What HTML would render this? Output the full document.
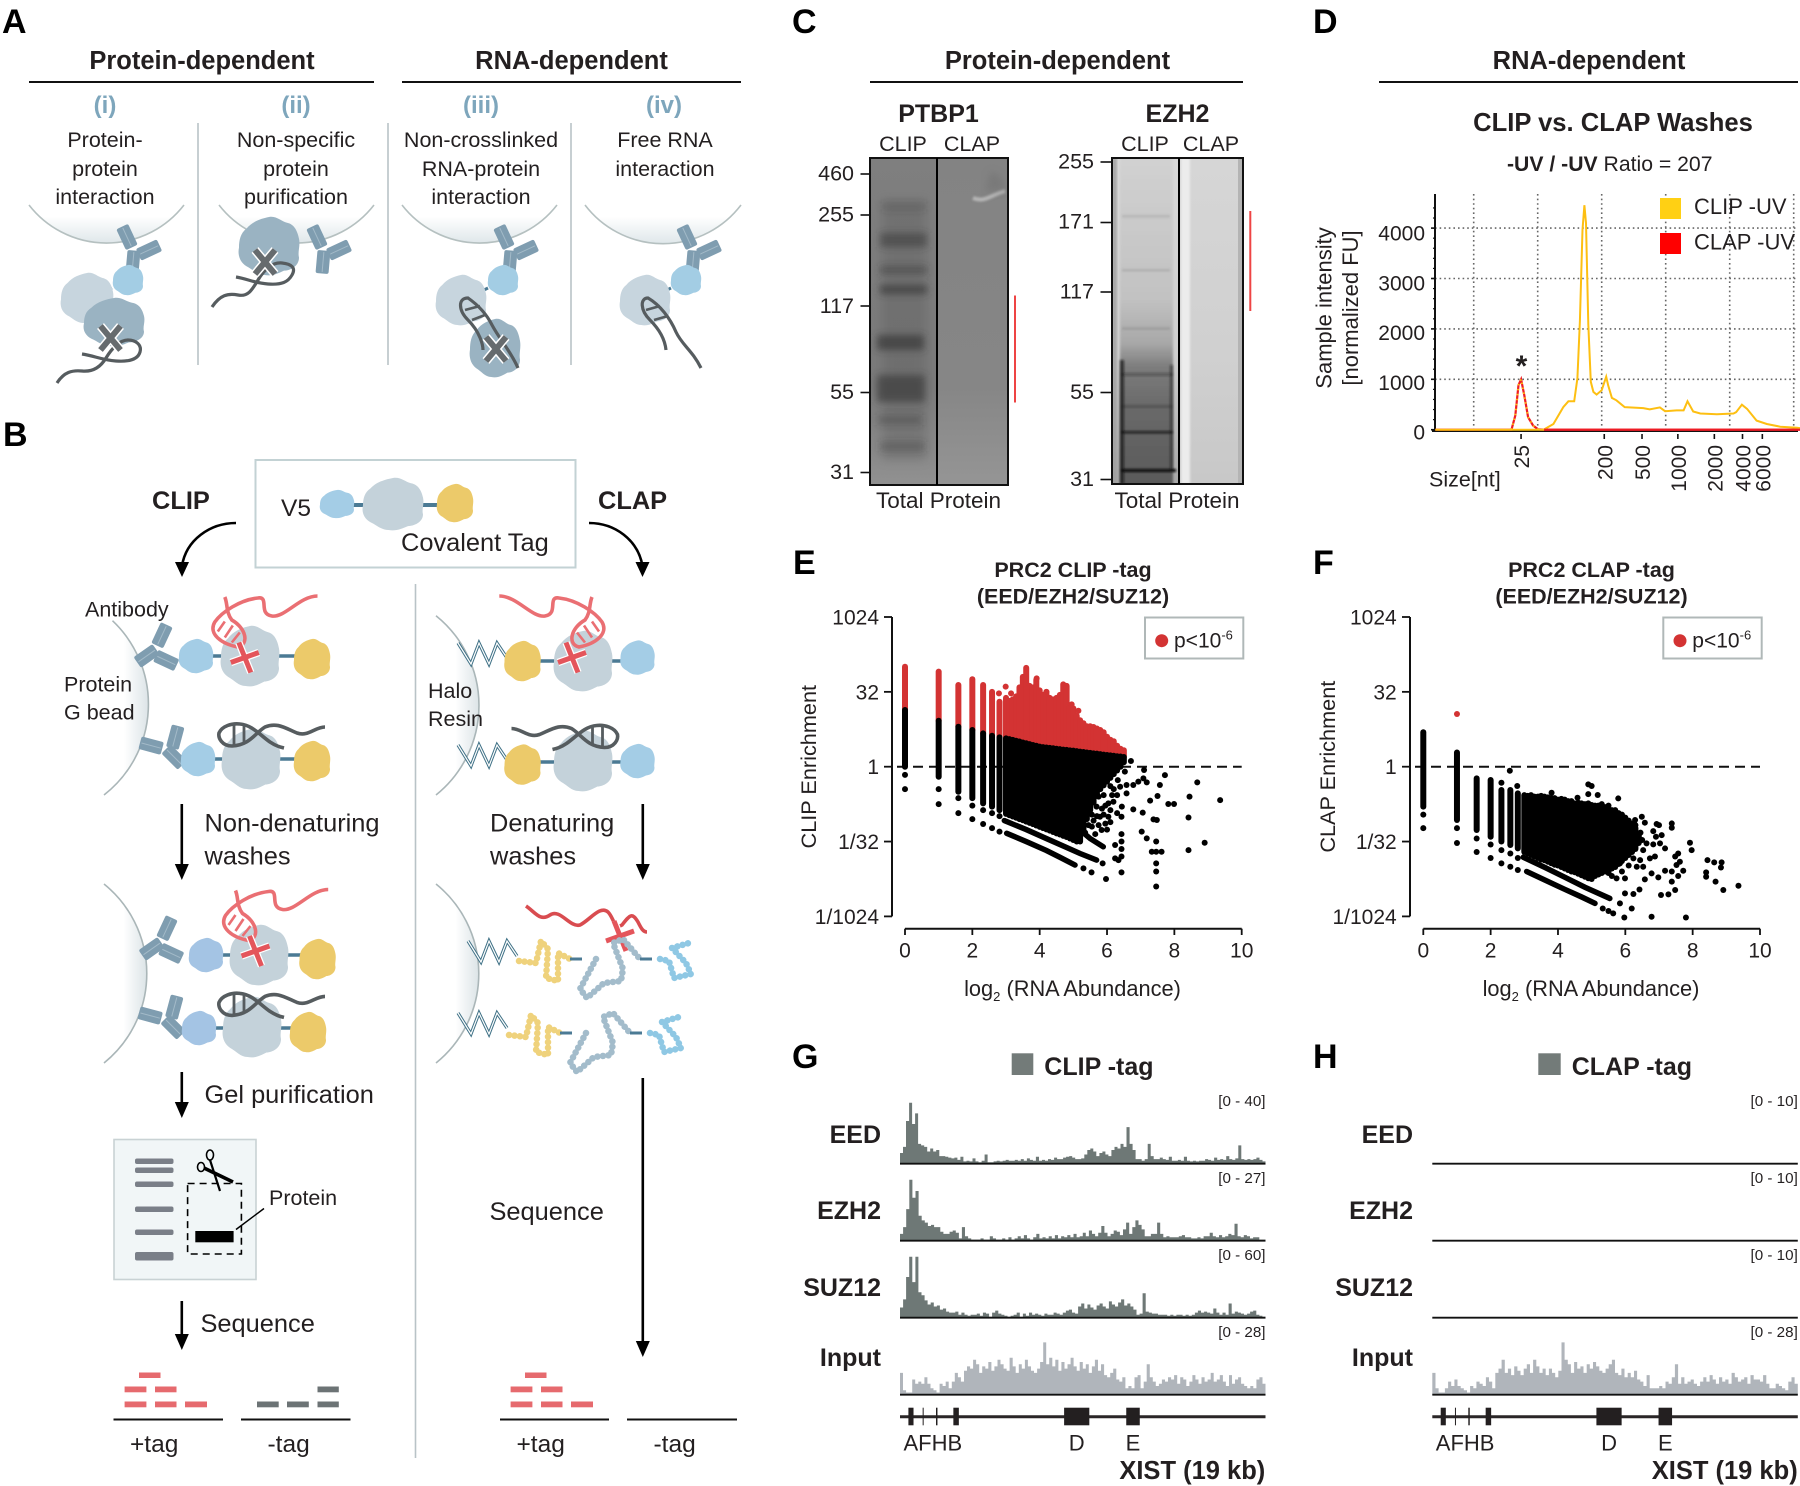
<!DOCTYPE html>
<html lang="en">
<head>
<meta charset="utf-8">
<title>CLIP vs CLAP figure</title>
<style>
html,body{margin:0;padding:0;background:#fff;}
svg{display:block;font-family:"Liberation Sans",sans-serif;fill:#231f20;}
.l{font-size:34px;font-weight:700;fill:#000;}
.h{font-size:25.5px;font-weight:700;text-anchor:middle;}
.r{font-size:24px;font-weight:700;fill:#7ea6bc;text-anchor:middle;}
.t{font-size:21.5px;}
.c{text-anchor:middle;}
.e{text-anchor:end;}
.m{font-size:25.4px;}
.b{font-weight:700;}
.rule{stroke:#111;stroke-width:2;}
.div{stroke:#b9c3c7;stroke-width:1.6;}
.arrow{stroke:#000;stroke-width:2.6;fill:none;}
.head{fill:#000;}
.chain{fill:none;stroke-linecap:round;stroke-linejoin:round;stroke-width:6.5;stroke-dasharray:.1 5.4;}
</style>
</head>
<body>
<svg id="figure" xmlns="http://www.w3.org/2000/svg" width="1800" height="1486" viewBox="0 0 1800 1486">
<defs>
<path id="blob" d="M0 -1 C.25 -1.05 .4 -.85 .6 -.8 C.85 -.75 .95 -.5 1 -.25 C1.05 0 .95 .2 1 .4 C1 .7 .7 .85 .5 .85 C.3 .95 .1 1.05 -.15 1 C-.4 1 -.55 .8 -.75 .7 C-.98 .55 -1.05 .3 -1 .05 C-1 -.2 -.95 -.45 -.75 -.6 C-.55 -.85 -.25 -.95 0 -1Z"/>
<g id="abarm">
<rect x="-6.5" y="-11.5" width="13" height="23" rx="2" fill="#7f9db0"/>
<line x1="0" y1="-10" x2="0" y2="10" stroke="#a3bac8" stroke-width="1"/>
</g>
<g id="ab">
<use href="#abarm" transform="translate(-10 -11) rotate(-25)"/>
<use href="#abarm" transform="translate(12 2) rotate(65)"/>
<use href="#abarm" transform="translate(-4 14) rotate(5)"/>
</g>
<g id="xdark">
<path d="M-10 -12 L10 12 M10 -12 L-10 12" stroke="#fff" stroke-width="9" fill="none"/>
<path d="M-10 -12 L10 12 M10 -12 L-10 12" stroke="#666b6e" stroke-width="6" fill="none"/>
</g>
<g id="xred">
<path d="M-6 -15 L6 15 M-14 5 L14 -5" stroke="#fff" stroke-width="7.5" fill="none"/>
<path d="M-6 -15 L6 15 M-14 5 L14 -5" stroke="#e4555b" stroke-width="5" fill="none"/>
</g>
<g id="rnared">
<path d="M72.7 -61.5 C55 -61.5 40 -39.5 27 -41.5 C13 -43.5 25 -61.5 13 -59.5 C-5 -57.5 -23 -45.5 -30 -35.5 C-37 -23.5 -23 -13.5 -7 -10.5 C5 -13.5 1 -29.5 -13 -37.5 C-19 -45.5 -17 -53.5 -20 -60.5" fill="none" stroke="#ea6f73" stroke-width="3.6"/>
<path d="M-27 -26 L-20 -36 M-20 -20 L-12 -32 M-13 -15 L-5 -25" stroke="#ea6f73" stroke-width="2.6"/>
</g>
<g id="helix">
<path d="M325 727 C315 727 308 737 297 733 C285 728 277 722 265 727 C255 733 250 745 232 746 C222 746 218 738 219 733 C222 726 232 723 240 724 C252 725 260 735 270 742 C276 746 280 747 284 748" fill="none" stroke="#565c5f" stroke-width="3.6"/>
<path d="M234 725 L234 745 M244 725 L244 743" stroke="#565c5f" stroke-width="2.8"/>
</g>
<polyline id="zig" points="0,0 13,21 21,0 31,21 39,0 49,15" fill="none" stroke="#3f7186" stroke-width="3.2"/>
<polyline id="zigw" points="0,0 13,21 21,0 31,21 39,0 49,15" fill="none" stroke="#fff" stroke-width="1.2"/>
<g id="zigzag"><use href="#zig"/><use href="#zigw"/></g>
<linearGradient id="beadA" x1="0" y1="0" x2="0" y2="1"><stop offset="0.3" stop-color="#fff"/><stop offset="1" stop-color="#dfe7ea"/></linearGradient>
<linearGradient id="beadB" x1="0" y1="0" x2="1" y2="0"><stop offset="0.45" stop-color="#fff"/><stop offset="1" stop-color="#dce4e7"/></linearGradient>
<linearGradient id="gelLane2" x1="0" y1="0" x2="0" y2="1"><stop offset="0" stop-color="#d2d2d2"/><stop offset="0.43" stop-color="#c2c2c2"/><stop offset="0.56" stop-color="#a8a8a8"/><stop offset="0.63" stop-color="#7c7c7c"/><stop offset="0.75" stop-color="#696969"/><stop offset="1" stop-color="#585858"/></linearGradient>
<linearGradient id="gelMargin" x1="0" y1="0" x2="0" y2="1"><stop offset="0" stop-color="#d8d8d8"/><stop offset="0.6" stop-color="#cfcfcf"/><stop offset="1" stop-color="#a8a8a8"/></linearGradient>
<linearGradient id="gelRight2" x1="0" y1="0" x2="0" y2="1"><stop offset="0" stop-color="#d6d6d6"/><stop offset="0.6" stop-color="#d0d0d0"/><stop offset="1" stop-color="#c8c8c8"/></linearGradient>
<linearGradient id="gelBg1" x1="0" y1="0" x2="0" y2="1"><stop offset="0" stop-color="#7f7f7f"/><stop offset="0.7" stop-color="#7a7a7a"/><stop offset="1" stop-color="#919191"/></linearGradient>
<linearGradient id="gelBg1b" x1="0" y1="0" x2="0" y2="1"><stop offset="0" stop-color="#838383"/><stop offset="0.7" stop-color="#868686"/><stop offset="1" stop-color="#959595"/></linearGradient>
<filter id="blur5" x="-30%" y="-80%" width="160%" height="260%"><feGaussianBlur stdDeviation="5"/></filter>
<filter id="blur3" x="-20%" y="-100%" width="140%" height="300%"><feGaussianBlur stdDeviation="3.6"/></filter>
<filter id="blur1" x="-20%" y="-300%" width="140%" height="700%"><feGaussianBlur stdDeviation="1.1"/></filter>
<clipPath id="clipGel1"><rect x="870" y="158" width="138" height="327"/></clipPath>
<clipPath id="clipGel2"><rect x="1112" y="158" width="131" height="326"/></clipPath>
</defs>

<!-- Panel letters -->
<text class="l" x="2" y="33">A</text>
<text class="l" x="3" y="446">B</text>
<text class="l" x="792" y="33">C</text>
<text class="l" x="1313" y="33">D</text>
<text class="l" x="793" y="574">E</text>
<text class="l" x="1313" y="574">F</text>
<text class="l" x="792" y="1068">G</text>
<text class="l" x="1313" y="1068">H</text>

<!-- PANEL A -->
<g id="panel-a">
<g fill="url(#beadA)" stroke="#b5c0c0" stroke-width="1.6">
<path d="M29 205 A98 98 0 0 0 184 205"/><path d="M219 205 A98 98 0 0 0 374 205"/><path d="M402 205 A98 98 0 0 0 557 205"/><path d="M585 205 A98 98 0 0 0 741 205"/>
</g>
<text class="h" x="202" y="69">Protein-dependent</text>
<text class="h" x="571.5" y="69">RNA-dependent</text>
<line class="rule" x1="29" y1="82" x2="374" y2="82"/>
<line class="rule" x1="402" y1="82" x2="741" y2="82"/>
<text class="r" x="105" y="113">(i)</text><text class="r" x="296" y="113">(ii)</text><text class="r" x="481" y="113">(iii)</text><text class="r" x="664" y="113">(iv)</text>
<g class="t c">
<text x="105" y="147">Protein-</text><text x="105" y="176">protein</text><text x="105" y="204">interaction</text>
<text x="296" y="147">Non-specific</text><text x="296" y="176">protein</text><text x="296" y="204">purification</text>
<text x="481" y="147">Non-crosslinked</text><text x="481" y="176">RNA-protein</text><text x="481" y="204">interaction</text>
<text x="665" y="147">Free RNA</text><text x="665" y="176">interaction</text>
</g>
<line class="div" x1="198" y1="123" x2="198" y2="365"/><line class="div" x1="388" y1="123" x2="388" y2="365"/><line class="div" x1="571" y1="123" x2="571" y2="365"/>
<!-- i -->
<use href="#ab" transform="translate(137 248)"/>
<use href="#blob" transform="translate(128 280) scale(15)" fill="#a3cde4"/>
<line x1="112" y1="288" x2="104" y2="292" stroke="#4b7a94" stroke-width="3"/>
<use href="#blob" transform="translate(87 298) scale(26 25)" fill="#c7d5de"/>
<use href="#blob" transform="translate(114 322) scale(30 24)" fill="#9ab3c2"/>
<path d="M57 383 C64 372 72 370 82 371 S100 368 106 358 S120 340 128 340 S142 345 140 352 S130 362 116 361 S95 356 82 354" fill="none" stroke="#565c5f" stroke-width="3.2"/>
<use href="#xdark" transform="translate(110.5 338)"/>
<!-- ii -->
<use href="#ab" transform="translate(327 248)"/>
<use href="#blob" transform="translate(269 246) scale(30 29)" fill="#9ab3c2"/>
<path d="M212 307 C220 295 228 293 238 295 S252 290 258 280 S272 262 282 263 S296 268 292 275 S282 285 268 284 S248 279 236 277" fill="none" stroke="#565c5f" stroke-width="3.2"/>
<use href="#xdark" transform="translate(265 262)"/>
<!-- iii -->
<use href="#ab" transform="translate(514 248)"/>
<use href="#blob" transform="translate(503 280) scale(15)" fill="#a3cde4"/>
<line x1="488" y1="288" x2="480" y2="292" stroke="#4b7a94" stroke-width="3"/>
<use href="#blob" transform="translate(461 300) scale(25)" fill="#c7d5de"/>
<use href="#blob" transform="translate(495 348) scale(25 29)" fill="#9ab3c2"/>
<path d="M518 368 C510 350 500 340 492 325 C486 313 478 305 468 298 C458 298 458 310 468 320 C480 332 483 345 483 350" fill="none" stroke="#565c5f" stroke-width="3.2"/>
<path d="M465 310 L480 306 M472 320 L485 315" stroke="#565c5f" stroke-width="2.6"/>
<use href="#xdark" transform="translate(496 349)"/>
<!-- iv -->
<use href="#ab" transform="translate(697 248)"/>
<use href="#blob" transform="translate(686 280) scale(15)" fill="#a3cde4"/>
<line x1="671" y1="288" x2="663" y2="292" stroke="#4b7a94" stroke-width="3"/>
<use href="#blob" transform="translate(645 300) scale(25)" fill="#c7d5de"/>
<path d="M701 368 C692 350 682 345 676 332 C670 318 660 305 648 298 C640 298 640 310 650 320 C660 330 665 340 666 350" fill="none" stroke="#565c5f" stroke-width="3.2"/>
<path d="M646 310 L660 306 M654 320 L668 316" stroke="#565c5f" stroke-width="2.6"/>
</g>

<!-- PANEL B -->
<g id="panel-b">
<rect x="255.5" y="460" width="320" height="107.5" fill="#fff" stroke="#c3d2d4" stroke-width="2"/>
<text x="281" y="516" style="font-size:24.5px">V5</text>
<path d="M350 505 H440" stroke="#4b7a94" stroke-width="4"/>
<use href="#blob" transform="translate(337 504) scale(17 14)" fill="#a4cde6"/>
<use href="#blob" transform="translate(393 504) scale(30 26)" fill="#c4d2da"/>
<use href="#blob" transform="translate(455 503) scale(18 19)" fill="#ecca6a"/>
<text x="401" y="551" style="font-size:25.4px">Covalent Tag</text>
<text x="152" y="509" class="m b">CLIP</text>
<text x="598" y="509" class="m b">CLAP</text>
<path class="arrow" d="M236 523 C210 523 186 540 182 566"/><path class="head" d="M175 562 L189 562 L182 577Z"/>
<path class="arrow" d="M589 523 C615 523 638 540 642.5 566"/><path class="head" d="M635.5 562 L649.5 562 L642.5 577Z"/>
<line class="div" x1="415.5" y1="584" x2="415.5" y2="1458"/>
<!-- CLIP row 1/2 -->
<path d="M112.5 620.7 A115 115 0 0 1 104 795" fill="url(#beadB)" stroke="#aab6b8" stroke-width="1.6"/>
<text class="t" x="85" y="616.5">Antibody</text>
<text class="t" x="64" y="691.5">Protein</text><text class="t" x="64" y="719.5">G bead</text>
<path d="M200 656 H310" stroke="#4b7a94" stroke-width="3.5"/>
<use href="#ab" transform="translate(160 650) rotate(50)"/>
<use href="#blob" transform="translate(196 656) scale(17)" fill="#a4cde6"/>
<use href="#blob" transform="translate(250 656) scale(29 30)" fill="#c4d2da"/>
<use href="#blob" transform="translate(312 659) scale(18 20)" fill="#ecca6a"/>
<use href="#rnared" transform="translate(244.8 657.5)"/><use href="#xred" transform="translate(244.8 657.5)"/>
<path d="M200 759 H310" stroke="#4b7a94" stroke-width="3.5"/>
<use href="#ab" transform="translate(166 745) rotate(-50)"/>
<use href="#blob" transform="translate(198 759) scale(17)" fill="#a4cde6"/>
<use href="#blob" transform="translate(251 759) scale(29 30)" fill="#c4d2da"/>
<use href="#blob" transform="translate(312 761) scale(18 20)" fill="#ecca6a"/>
<use href="#helix"/>
<!-- CLAP row 1/2 -->
<path d="M436 615.7 A115 115 0 0 1 436 795" fill="url(#beadB)" stroke="#aab6b8" stroke-width="1.6"/>
<text class="t" x="428" y="698">Halo</text><text class="t" x="428" y="726">Resin</text>
<use href="#zigzag" transform="translate(458 643)"/>
<path d="M525 661 H635" stroke="#4b7a94" stroke-width="3.5"/>
<use href="#blob" transform="translate(522.5 661) scale(18 20)" fill="#ecca6a"/>
<use href="#blob" transform="translate(583 661) scale(29 30)" fill="#c4d2da"/>
<use href="#blob" transform="translate(637.5 657.5) scale(17)" fill="#a4cde6"/>
<use href="#rnared" transform="translate(572 657.5) scale(-1 1)"/><use href="#xred" transform="translate(572 657.5)"/>
<use href="#zigzag" transform="translate(458 745)"/>
<path d="M525 762 H635" stroke="#4b7a94" stroke-width="3.5"/>
<use href="#blob" transform="translate(522.5 764.5) scale(18 20)" fill="#ecca6a"/>
<use href="#blob" transform="translate(583 761) scale(29 30)" fill="#c4d2da"/>
<use href="#blob" transform="translate(637.5 761) scale(17)" fill="#a4cde6"/>
<use href="#helix" transform="translate(836.5 1.5) scale(-1 1)"/>
<!-- wash arrows -->
<line class="arrow" x1="181.8" y1="804" x2="181.8" y2="866"/><path class="head" d="M174.8 864 L188.8 864 L181.8 880Z"/>
<text class="m" x="204.5" y="831.5">Non-denaturing</text><text class="m" x="204.5" y="864.5">washes</text>
<line class="arrow" x1="642.8" y1="804" x2="642.8" y2="866"/><path class="head" d="M635.8 864 L649.8 864 L642.8 880Z"/>
<text class="m" x="490" y="831.5">Denaturing</text><text class="m" x="490" y="864.5">washes</text>
<!-- CLIP row 3/4 -->
<path d="M104 884 A115 115 0 0 1 104 1063" fill="url(#beadB)" stroke="#aab6b8" stroke-width="1.6"/>
<path d="M205 955 H315" stroke="#4b7a94" stroke-width="3.5"/>
<use href="#ab" transform="translate(165 943) rotate(50)"/>
<use href="#blob" transform="translate(206 955) scale(17)" fill="#a4c4e4"/>
<use href="#blob" transform="translate(259 955) scale(29 30)" fill="#c4d2da"/>
<use href="#blob" transform="translate(317.5 959) scale(18 20)" fill="#ecca6a"/>
<use href="#rnared" transform="translate(255.5 951)"/><use href="#xred" transform="translate(255.5 951)"/>
<path d="M200 1028 H305" stroke="#4b7a94" stroke-width="3.5"/>
<use href="#ab" transform="translate(165 1015) rotate(-50)"/>
<use href="#blob" transform="translate(199 1028) scale(17)" fill="#a4c4e4"/>
<use href="#blob" transform="translate(252 1027) scale(29 30)" fill="#c4d2da"/>
<use href="#blob" transform="translate(308 1032) scale(18 20)" fill="#ecca6a"/>
<use href="#helix" transform="translate(0 269.4)"/>
<!-- CLAP row 3/4 -->
<path d="M436 884 A115 115 0 0 1 436 1063" fill="url(#beadB)" stroke="#aab6b8" stroke-width="1.6"/>
<use href="#zigzag" transform="translate(468 941)"/>
<use href="#zigzag" transform="translate(458 1013)"/>
<path d="M526 906 C535 912 540 922 550 915 C560 908 570 928 580 925 C590 920 600 905 608 912 C614 918 614 930 622 925 C630 915 632 912 638 922 C641 928 643 932 647 932" fill="none" stroke="#d94c50" stroke-width="3.6"/>
<use href="#xred" transform="translate(620 936)"/>
<g transform="translate(10 -74)">
<polyline class="chain" stroke="#efd27c" points="509,1035 526,1037 531,1015 538,1023 536,1052 548,1055 548,1027 560,1033"/>
<line x1="560" y1="1033" x2="572" y2="1033" stroke="#4b7a94" stroke-width="3"/>
<polyline class="chain" stroke="#a3bccb" points="586,1033 570,1063 577,1072 594,1057 611,1055 613,1043 603,1017 613,1013 630,1033"/>
<line x1="630" y1="1033" x2="642" y2="1033" stroke="#4b7a94" stroke-width="3"/>
<polyline class="chain" stroke="#8fc8e4" points="650,1033 659,1035 664,1052 681,1048 676,1037 662,1022 679,1017"/>
</g>
<g>
<polyline class="chain" stroke="#efd27c" points="509,1035 526,1037 531,1015 538,1023 536,1052 548,1055 548,1027 560,1033"/>
<line x1="560" y1="1033" x2="572" y2="1033" stroke="#4b7a94" stroke-width="3"/>
<polyline class="chain" stroke="#a3bccb" points="586,1033 570,1063 577,1072 594,1057 611,1055 613,1043 603,1017 613,1013 630,1033"/>
<line x1="630" y1="1033" x2="642" y2="1033" stroke="#4b7a94" stroke-width="3"/>
<polyline class="chain" stroke="#8fc8e4" points="650,1033 659,1035 664,1052 681,1048 676,1037 662,1022 679,1017"/>
</g>
<!-- Gel purification -->
<line class="arrow" x1="181.8" y1="1072" x2="181.8" y2="1104"/><path class="head" d="M174.8 1102 L188.8 1102 L181.8 1118Z"/>
<text class="m" x="204.5" y="1103">Gel purification</text>
<rect x="114" y="1139.5" width="142" height="140" fill="#f1f6f7" stroke="#c9d2d4" stroke-width="1.6"/>
<g fill="#7a7f88">
<rect x="135" y="1158.5" width="38.5" height="5.5" rx="2"/><rect x="135" y="1167.5" width="38.5" height="5.5" rx="2"/><rect x="135" y="1181.5" width="38.5" height="5.5" rx="2"/><rect x="135" y="1206.5" width="38.5" height="5.5" rx="2"/><rect x="135" y="1229.5" width="38.5" height="5.5" rx="2"/><rect x="135" y="1252" width="38.5" height="8.5" rx="2"/>
</g>
<rect x="187.6" y="1183.5" width="53.8" height="70.5" fill="none" stroke="#000" stroke-width="1.6" stroke-dasharray="7 5"/>
<rect x="195.3" y="1231" width="38.3" height="11.3" fill="#000"/>
<g fill="none" stroke="#000" stroke-width="1.6">
<ellipse cx="210" cy="1155" rx="3.5" ry="5"/><ellipse cx="201" cy="1167" rx="3.5" ry="4.5"/>
<path d="M210 1160 L220 1191" stroke-width="2.2"/><path d="M204 1168 L233 1182" stroke-width="3.5"/>
</g>
<text class="t" x="269" y="1205">Protein</text>
<line x1="236" y1="1229.5" x2="264" y2="1208.5" stroke="#000" stroke-width="1.5"/>
<line class="arrow" x1="181.8" y1="1301" x2="181.8" y2="1336"/><path class="head" d="M174.8 1334 L188.8 1334 L181.8 1350Z"/>
<text class="m" x="200.5" y="1332">Sequence</text>
<line class="arrow" x1="642.8" y1="1078" x2="642.8" y2="1342"/><path class="head" d="M635.8 1341 L649.8 1341 L642.8 1357Z"/>
<text class="m" x="489.5" y="1220">Sequence</text>
<!-- reads -->
<g fill="#e66a6e">
<rect x="139" y="1372.5" width="21.5" height="5.5"/><rect x="124.6" y="1386.5" width="21.8" height="5.8"/><rect x="155" y="1386.5" width="21.5" height="5.8"/><rect x="124.6" y="1401.5" width="21.8" height="5.8"/><rect x="155" y="1401.5" width="21.5" height="5.8"/><rect x="185" y="1401.5" width="22" height="5.8"/>
</g>
<g fill="#6c7375">
<rect x="317.5" y="1386.5" width="21.3" height="5.8"/><rect x="257" y="1401.5" width="21.7" height="5.8"/><rect x="287" y="1401.5" width="21.8" height="5.8"/><rect x="317.5" y="1401.5" width="21.3" height="5.8"/>
</g>
<g fill="#e66a6e" transform="translate(386 0)">
<rect x="139" y="1372.5" width="21.5" height="5.5"/><rect x="124.6" y="1386.5" width="21.8" height="5.8"/><rect x="155" y="1386.5" width="21.5" height="5.8"/><rect x="124.6" y="1401.5" width="21.8" height="5.8"/><rect x="155" y="1401.5" width="21.5" height="5.8"/><rect x="185" y="1401.5" width="22" height="5.8"/>
</g>
<line class="rule" x1="113.5" y1="1419.5" x2="223" y2="1419.5"/><line class="rule" x1="241" y1="1419.5" x2="350.5" y2="1419.5"/><line class="rule" x1="500" y1="1419.5" x2="609" y2="1419.5"/><line class="rule" x1="627" y1="1419.5" x2="737" y2="1419.5"/>
<g style="font-size:24.5px">
<text x="130" y="1452">+tag</text><text x="267.5" y="1452">-tag</text><text x="516.5" y="1452">+tag</text><text x="653.5" y="1452">-tag</text>
</g>
</g>

<!-- PANEL C -->
<g id="panel-c">
<text class="h" x="1057.5" y="69">Protein-dependent</text>
<line class="rule" x1="870" y1="82" x2="1243" y2="82"/>
<text class="b c" x="938.5" y="122" style="font-size:25px">PTBP1</text>
<text class="b c" x="1177.5" y="122" style="font-size:25px">EZH2</text>
<g class="t c"><text x="903" y="151">CLIP</text><text x="972" y="151">CLAP</text><text x="1145" y="151">CLIP</text><text x="1211" y="151">CLAP</text><text x="938.5" y="508" style="font-size:22.5px">Total Protein</text><text x="1177" y="508" style="font-size:22.5px">Total Protein</text></g>
<g clip-path="url(#clipGel1)">
<rect x="870" y="158" width="67" height="327" fill="url(#gelBg1)"/>
<rect x="937" y="158" width="71" height="327" fill="url(#gelBg1b)"/>
<rect x="882" y="200" width="44" height="260" fill="#5a5a5a" opacity=".35" filter="url(#blur5)"/>
<g fill="#3a3a3a" filter="url(#blur3)">
<rect x="882" y="203" width="44" height="7" opacity=".25"/><rect x="880" y="233" width="47" height="14" opacity=".6"/><rect x="880" y="266" width="47" height="8" opacity=".5"/><rect x="880" y="285" width="47" height="9" opacity=".75"/>
<rect x="877" y="335" width="47" height="15" opacity=".75"/><rect x="877" y="375" width="48" height="27" opacity=".7"/><rect x="877" y="415" width="45" height="10" opacity=".3"/><rect x="880" y="442" width="45" height="9" opacity=".35"/>
</g>
<path d="M973 198 C985 203 990 195 1005 191" stroke="#b5b5b5" stroke-width="4" fill="none" filter="url(#blur1)"/>
<path d="M990 172 C998 172 1004 180 1006 190 L985 192 Z" fill="#6f6f6f" opacity=".5" filter="url(#blur3)"/>
</g>
<rect x="870" y="158" width="138" height="327" fill="none" stroke="#111" stroke-width="2"/>
<line x1="937" y1="158" x2="937" y2="485" stroke="#000" stroke-width="2"/>
<g clip-path="url(#clipGel2)">
<rect x="1112" y="158" width="67" height="326" fill="url(#gelMargin)"/>
<rect x="1112" y="158" width="5" height="326" fill="#9e9e9e" opacity=".8" filter="url(#blur1)"/>
<rect x="1120" y="150" width="53" height="345" fill="url(#gelLane2)" filter="url(#blur1)"/>
<rect x="1179" y="158" width="64" height="326" fill="url(#gelRight2)"/>
<rect x="1181" y="158" width="9" height="326" fill="#ececec" filter="url(#blur1)"/>
<rect x="1238" y="158" width="5" height="326" fill="#b4b4b4"/>
<g fill="#555" filter="url(#blur1)">
<rect x="1122" y="215" width="48" height="2.5" opacity=".18"/><rect x="1122" y="269" width="48" height="2.5" opacity=".2"/><rect x="1122" y="327" width="48" height="3" opacity=".2"/>
</g>
<g fill="#111" filter="url(#blur1)">
<rect x="1120" y="360" width="4" height="124" opacity=".7"/><rect x="1170" y="365" width="3" height="105" opacity=".5"/>
<rect x="1121" y="373" width="52" height="3" opacity=".35"/><rect x="1121" y="405" width="52" height="3" opacity=".2"/><rect x="1121" y="431" width="52" height="2.5" opacity=".8"/><rect x="1121" y="469" width="55" height="3" opacity="1"/>
</g>
</g>
<rect x="1112" y="158" width="131" height="326" fill="none" stroke="#111" stroke-width="2"/>
<line x1="1179" y1="158" x2="1179" y2="484" stroke="#000" stroke-width="2"/>
<line x1="1015" y1="295.5" x2="1015" y2="402.5" stroke="#ee4444" stroke-width="2"/>
<line x1="1250.3" y1="211" x2="1250.3" y2="311" stroke="#ee4444" stroke-width="2"/>
<g stroke="#111" stroke-width="1.6">
<line x1="860.5" y1="174" x2="870" y2="174"/><line x1="860.5" y1="215" x2="870" y2="215"/><line x1="860.5" y1="306" x2="870" y2="306"/><line x1="860.5" y1="392.5" x2="870" y2="392.5"/><line x1="860.5" y1="472.5" x2="870" y2="472.5"/>
<line x1="1100.5" y1="162" x2="1112" y2="162"/><line x1="1100.5" y1="222.5" x2="1112" y2="222.5"/><line x1="1100.5" y1="292" x2="1112" y2="292"/><line x1="1100.5" y1="392.5" x2="1112" y2="392.5"/><line x1="1100.5" y1="479.5" x2="1112" y2="479.5"/>
</g>
<g class="t e">
<text x="854" y="180.5">460</text><text x="854" y="221.5">255</text><text x="854" y="313">117</text><text x="854" y="399">55</text><text x="854" y="479">31</text>
<text x="1094" y="168.5">255</text><text x="1094" y="228.5">171</text><text x="1094" y="298.5">117</text><text x="1094" y="399">55</text><text x="1094" y="486">31</text>
</g>
</g>

<!-- PANEL D static text -->
<g id="panel-d">
<text class="h" x="1589" y="69">RNA-dependent</text>
<line class="rule" x1="1379" y1="82" x2="1798" y2="82"/>
<text class="b c" x="1613" y="131" style="font-size:25.6px">CLIP vs. CLAP Washes</text>
<text x="1507" y="171" style="font-size:21.2px"><tspan font-weight="700">-UV / -UV</tspan> Ratio = 207</text>
<text class="c" style="font-size:22px" transform="translate(1331.5 308) rotate(-90)">Sample intensity</text>
<text class="c" style="font-size:22px" transform="translate(1358 308) rotate(-90)">[normalized FU]</text>
<text x="1429" y="486.5" style="font-size:21.5px">Size[nt]</text>
<g id="chart-d"></g>
<text class="c b" x="1521.5" y="376" style="font-size:30px">*</text>
<rect x="1660" y="198" width="21" height="21" fill="#ffd014"/>
<rect x="1660" y="233" width="21" height="21" fill="#ff0000"/>
<text x="1694" y="214" style="font-size:22px">CLIP -UV</text>
<text x="1694" y="249.5" style="font-size:22px">CLAP -UV</text>
</g>

<!-- PANEL E / F static text -->
<g id="panel-e">
<text class="b c" x="1073" y="577" style="font-size:21.5px">PRC2 CLIP -tag</text>
<text class="b c" x="1073" y="603.5" style="font-size:21.5px">(EED/EZH2/SUZ12)</text>
<text class="c" style="font-size:21.7px" transform="translate(816 766.7) rotate(-90)">CLIP Enrichment</text>
<text class="c" x="1072.5" y="996" style="font-size:21.8px">log<tspan font-size="13" dy="5">2</tspan><tspan dy="-5"> (RNA Abundance)</tspan></text>
<g id="chart-e"></g>
<rect x="1145" y="617.5" width="98.3" height="41" fill="#fff" stroke="#b0b8b8" stroke-width="2"/>
<circle cx="1161.7" cy="640.7" r="6.5" fill="#d33333"/>
<text x="1174" y="647.5" style="font-size:21px">p&lt;10<tspan font-size="13" dy="-8">-6</tspan></text>
</g>
<g id="panel-f">
<text class="b c" x="1591.5" y="577" style="font-size:21.5px">PRC2 CLAP -tag</text>
<text class="b c" x="1591.5" y="603.5" style="font-size:21.5px">(EED/EZH2/SUZ12)</text>
<text class="c" style="font-size:21.7px" transform="translate(1335 766.7) rotate(-90)">CLAP Enrichment</text>
<text class="c" x="1591" y="996" style="font-size:21.8px">log<tspan font-size="13" dy="5">2</tspan><tspan dy="-5"> (RNA Abundance)</tspan></text>
<g id="chart-f"></g>
<rect x="1663.3" y="617.5" width="98.4" height="41" fill="#fff" stroke="#b0b8b8" stroke-width="2"/>
<circle cx="1680" cy="640.7" r="6.5" fill="#d33333"/>
<text x="1692.3" y="647.5" style="font-size:21px">p&lt;10<tspan font-size="13" dy="-8">-6</tspan></text>
</g>

<!-- PANEL G / H -->
<g id="panel-g">
<rect x="1011.7" y="1053.3" width="21.6" height="21.7" fill="#737b79"/>
<text x="1044.3" y="1075" class="b" style="font-size:25px">CLIP -tag</text>
<g id="chart-g"></g>
<text class="b e" x="1265.3" y="1479" style="font-size:25.5px">XIST (19 kb)</text>
</g>
<g id="panel-h">
<rect x="1538.3" y="1053.3" width="22.4" height="21.7" fill="#737b79"/>
<text x="1571.7" y="1075" class="b" style="font-size:25px">CLAP -tag</text>
<g id="chart-h"></g>
<text class="b e" x="1797.7" y="1479" style="font-size:25.5px">XIST (19 kb)</text>
</g>
</svg>

<script>
/* ---------- Panel D data ---------- */
const gridPositions = [20,30,40,50,60,70];
const fuTicks = [0,1000,2000,3000,4000];
const sizeLabels = ['25','200','500','1000','2000','4000','6000'];
const sizePositions = [27.4,40.4,46.3,51.9,57.6,62.0,65.1];
const clipUvPos = [14,25.9,30.9,32.45,34,34.8,35.7,36.2,36.6,37,37.3,37.55,37.9,38.3,38.7,39.2,40,40.7,41,41.6,42.3,43.6,46.5,47.5,49.1,49.9,51.7,52.8,53.4,54.3,55.4,58,60.6,61,61.9,62.7,64.2,65.8,67.9,70.5,71];
const clipUvFu = [0,0,0,114,449,563,563,1018,2157,3966,4455,4100,2090,951,750,697,784,1052,884,630,583,449,429,402,442,368,382,382,563,362,322,308,322,348,496,415,181,114,60,40,30];
const clapUvPos = [14,25.9,26.5,27,27.4,27.9,28.5,29.3,30.1,31,71];
const clapUvFu = [0,0,281,884,1000,683,248,80,5,0,0];

/* ---------- Panel E data (log2 units) ---------- */
const abundanceTicks = [0,2,4,6,8,10];
const enrichTicks = [10,5,0,-5,-10];
const enrichLabels = ['1024','32','1','1/32','1/1024'];
const eColX = [0,1,1.585,2,2.32,2.585,2.807];
const eColRedTop = [6.68,6.35,5.46,5.84,5.46,5.0,4.34];
const eColSplit = [3.79,3.07,2.67,2.45,2.23,2.07,1.96];
const eColBottom = [0,-0.67,-1.67,-2.1,-2.45,-2.67,-2.9];
const eDenseX = [3.0,3.1,3.2,3.3,3.4,3.5,3.6,3.7,3.8,3.9,4.0,4.1,4.2,4.3,4.4,4.5,4.6,4.7,4.8,4.9,5.0,5.1,5.2,5.3,5.4,5.5,5.6,5.7,5.8,5.9,6.0,6.1,6.2,6.3,6.4,6.5];
const eDenseRedTop = [4.6,4.4,4.5,4.7,5.3,6.0,6.6,5.4,5.3,5.8,5.1,4.8,5.0,4.6,4.5,4.6,4.8,5.5,5.4,4.1,3.9,3.4,3.1,2.9,2.7,2.7,2.65,2.55,2.45,2.3,2.0,1.8,1.7,1.4,1.2,1.1];
const eDenseSplit = [1.89,1.84,1.79,1.73,1.68,1.62,1.57,1.51,1.45,1.40,1.34,1.31,1.28,1.26,1.23,1.2,1.17,1.14,1.12,1.09,1.07,1.04,1.01,0.98,0.95,0.92,0.89,0.87,0.84,0.81,0.78,0.76,0.73,0.7,0.68,0.65];
const eDenseBottom = [-3.15,-3.24,-3.33,-3.41,-3.5,-3.58,-3.67,-3.75,-3.84,-3.93,-4.02,-4.1,-4.19,-4.27,-4.36,-4.45,-4.53,-4.62,-4.7,-4.8,-4.9,-5.0,-5.0,-4.2,-3.5,-2.9,-2.4,-1.9,-1.5,-1.25,-1.0,-0.75,-0.5,-0.25,0,0.3];
const eBand1X = [2.95,3.6,4.2,4.8,5.2,5.69];
const eBand1L = [-3.6,-4.2,-4.8,-5.4,-5.8,-6.24];
const eBand2X = [3.02,3.6,4.2,4.6,5.05];
const eBand2L = [-4.45,-5.0,-5.6,-6.05,-6.57];
const eBand3X = [5.2,5.5,5.89];
const eBand3L = [-4.23,-4.8,-5.35];
const eRedPoints = [[2.99,5.35],[2.79,4.9],[3.15,4.9],[3.91,5.9],[4.2,5.0],[4.95,4.16],[5.15,3.74]];
const eBlackPoints = [[0,-0.55],[0,-1.5],[1,-1.5],[1,-2.5],[1.585,-2.1],[1.585,-3.1],[2,-2.6],[2,-3.5],[2.32,-2.9],[2.32,-3.83],[2.585,-3.1],[2.585,-4.1],[2.807,-3.3],[2.807,-4.34],
[6.71,0.38],[6.53,-0.33],[7.1,-0.22],[7.72,-0.56],[8.68,-1.05],[9.36,-2.23],[8.45,-2.0],[8.42,-3.39],[8.42,-5.57],[8.9,-5.08],[7.82,-2.49],[7.99,-2.49],[7.57,-1.22],[7.5,-1.96],[7.28,-2.27],[7.08,-0.78],[7.18,-1.05],[6.93,-1.0],[6.78,-1.22],[6.58,-1.22],[6.78,-2.85],[7.06,-3.07],[7.03,-4.34],[7.18,-4.79],[7.38,-3.52],[7.48,-3.56],[7.46,-5.0],[7.46,-5.68],[7.46,-6.46],[7.46,-7.0],[7.46,-8.0],[7.33,-5.68],[7.62,-5.68],[6.43,-3.34],[6.43,-4.5],[6.43,-5.0],[6.43,-5.5],[6.43,-6.0],[6.43,-7.06],[6.24,-6.12],[6.24,-5.23],[6.34,-6.24],[5.97,-7.5],[5.54,-7.06],[5.3,-6.79],[5.87,-6.46],[6.39,-1.34],[6.3,-1.9],[6.19,-2.34],[6.04,-2.45],[6.04,-3.34],[5.79,-3.34],[5.84,-4.23],[5.5,-2.45],[5.69,-2.67],[5.4,-3.1],[6.44,-2.67],[6.58,-1.78],[5.6,-3.6],[5.45,-3.9],[5.9,-1.9],[5.75,-2.0],[6.0,-4.2],[6.2,-1.5],[5.65,-4.5],[5.95,-3.8],[5.55,-3.2],[5.7,-3.3],[5.85,-2.8],[5.95,-2.6],[6.1,-2.9],[6.15,-1.9],[5.35,-4.4],[5.55,-4.0],[5.75,-3.9],[5.9,-3.2],[6.1,-3.7],[6.3,-3.1],[6.1,-1.3],[6.32,-0.9]];

/* ---------- Panel F data (log2 units) ---------- */
const fColX = [0,1,1.585,2,2.32,2.585,2.807];
const fColTop = [2.3,0.95,-0.78,-0.89,-1.56,-1.56,-1.78];
const fColBottom = [-2.67,-3.56,-4.23,-4.68,-5.0,-5.23,-5.46];
const fDenseX = [3.0,3.1,3.2,3.3,3.4,3.5,3.6,3.7,3.8,3.9,4.0,4.1,4.2,4.3,4.4,4.5,4.6,4.7,4.8,4.9,5.0,5.1,5.2,5.3,5.4,5.5,5.6,5.7,5.8,5.9,6.0,6.1,6.2,6.3,6.4];
const fDenseTop = [-1.9,-1.95,-1.9,-2,-2,-1.95,-2,-2.05,-2.1,-2.1,-2.2,-2.15,-2.2,-2.3,-2.3,-2.45,-2.4,-2.45,-2.5,-2.45,-2.56,-2.6,-2.6,-2.7,-2.7,-2.9,-2.9,-3,-3.1,-3.2,-3.4,-3.6,-3.8,-4.1,-4.5];
const fDenseBottom = [-5.7,-5.8,-5.9,-6,-6.1,-6.2,-6.25,-6.35,-6.45,-6.55,-6.6,-6.7,-6.8,-6.9,-7,-7.05,-7.15,-7.25,-7.35,-7.45,-7.5,-7.3,-7.2,-7.1,-7.0,-7.1,-6.8,-6.7,-6.5,-6.3,-6.1,-5.9,-5.7,-5.5,-5.1];
const fBand1X = [2.97,3.6,4.2,4.8,5.54];
const fBand1L = [-6.05,-6.72,-7.38,-8.05,-8.8];
const fBand2X = [3.07,3.6,4.2,4.7,5.1];
const fBand2L = [-7,-7.56,-8.19,-8.7,-9.13];
const fRedPoints = [[1,3.52]];
const fBlackPoints = [[0,-3.2],[0,-4.1],[1,-4.1],[1,-5.1],[1.585,-4.8],[1.585,-5.7],[2,-5.2],[2,-6.1],[2.32,-5.57],[2.32,-6.46],[2.585,-5.8],[2.585,-6.68],[2.807,-6.1],[2.807,-6.9],[2.32,-1.07],
[2.57,-0.27],[2.79,-1.29],[4.9,-1.18],[5,-1.29],[4.9,-1.83],[5.18,-1.89],[5.79,-2.12],[4.58,-2.07],[3.81,-1.74],[3.45,-2.0],[6.49,-3.34],[6.29,-3.56],[6.58,-3.74],[6.93,-3.83],[7.0,-3.9],[7.38,-3.79],[7.38,-4.08],[6.83,-4.3],[7.08,-4.57],[6.91,-4.68],[6.63,-5.12],[6.83,-5.19],[7.03,-5.12],[7.18,-5.46],[7.92,-5.08],[7.97,-5.57],[7.57,-5.8],[7.48,-6.0],[7.62,-6.35],[7.52,-6.57],[8.44,-6.24],[8.64,-6.39],[8.86,-6.39],[8.84,-6.73],[8.4,-7.06],[8.4,-7.35],[8.68,-7.68],[8.91,-8.24],[9.36,-7.95],[7.72,-6.95],[7.57,-7.3],[7.38,-7.0],[7.18,-6.95],[6.98,-7.39],[6.78,-7.13],[6.58,-7.53],[7.38,-7.68],[7.48,-8.24],[7.28,-8.53],[7.06,-8.57],[6.42,-8.2],[6.24,-8.5],[5.99,-8.46],[6.19,-9.47],[5.97,-10.07],[6.78,-10.02],[7.8,-10.07],[5.64,-9.8],[5.33,-9.47],[5.5,-9.64],[5.84,-9.13],[5.99,-7.46],[5.74,-7.46],[6.34,-6.68],[6.53,-6.68],[6.73,-6.12],[6.88,-6.0],[6.44,-6.24],[6.24,-6.12],[5.84,-6.46],[6.53,-5.57],[5.6,-7.3],[5.9,-7.0],[6.1,-6.6],[5.7,-2.9],[5.5,-2.6],[5.3,-2.5],[6.3,-3.9],[6.45,-4.4],[6.5,-4.9]];

/* ---------- Panel G / H track data ---------- */
const trackNames = ['EED','EZH2','SUZ12','Input'];
const gRanges = [40,27,60,28];
const hRanges = [10,10,10,28];
const gEed = [7,11,28,40,26,33,13,12,11,8,10,8,9,5,5,4.5,4,3.5,4,2.5,4.5,1.5,2,1.5,3.5,1.5,1,2,6,1,1,1.5,2,1.5,2,2.5,2,2,2.5,2,3,2,3.5,2.5,2,4.5,2,2.5,2,3,2.5,4,3,3,4,4.5,5,4,3,3,3.5,6,9,10,8,5,7,8,6,5,9,11,10,13,11,24,13,9,3,3,2,3,13,5,3,3,4,3,2.5,4.5,2,2,2.5,2,4.5,2,1.5,2,1.5,2,2,3,2.5,2,4,2.5,3,2.5,5,3,2.5,3.5,12,3,2.5,3,2.5,3,4,2.5,1.5];
const gEzh2 = [3,6,14,27,19,22,11,9,8,6.5,7,6,6,4,3,3,4,4.5,3.5,1,6,2,1,0.5,0.5,0.5,1,0.5,0.5,2,1,0.5,0.5,1,0.5,1.5,0.5,1,2,1,2.5,1,0.5,1.5,3,1,1.5,1,2,1,2.5,1,2,1.5,2.5,1.5,3,1.5,2,3.5,2,4.5,3,2,3.5,6.5,3.5,2,3,4.5,4,2.5,5,8,3,6,9,7,5,2,2,3,3,8,3,1.5,2,1.5,1.5,1.5,2,2.5,1.5,1.5,1,1,1.5,1,2,2,3.5,2,1.5,2.5,1.5,2,3,2.5,7.5,2,1.5,2.5,2,1,1.5,1.5,0.5,0.5];
const gSuz12 = [10,18,40,60,35,60,25,22,17,13,15,11,12,8,9,6,5,5,6,3,5,3,2,3,3,4,2,5,4,1,5,7,4,3,2,1,2,3,5,1,4,2,5,3,4,3,2,4,3,3,5,4,3,5,7,8,5,4,11,14,9,13,10,8,12,14,11,9,16,13,11,15,18,12,14,11,8,3,4,24,6,5,4,4,3,3,3,2,3,2,3,3,2,3,2,3,5,7,5,6,5,4,9,5,3,5,3,14,4,6,5,4,3,4,6,7,3,2,1];
const gInput = [10,2,1,1,7,5,6,5,8,5,3,2,1,5,4,6,3,6,10,8,6,11,13,12,16,14,10,13,12,15,11,13,16,14,12,11,17,13,10,14,12,16,13,11,10,12,15,24,14,17,13,16,11,15,12,14,17,13,11,15,12,14,10,13,16,11,14,9,8,10,12,7,6,8,3,4,3,8,9,3,6,14,8,6,4,5,7,6,8,7,9,5,8,7,4,6,9,7,5,8,6,7,10,6,7,9,6,4,9,5,7,8,5,4,3,4,3,7,8,5];
const hEed = [0,0,0,0,0,0,0,0,0,0,0,0,0,0,0,0,0,0,0,0];
const hEzh2 = [0,0,0,0,0,0,0,0,0,0,0,0,0,0.1,0,0,0,0,0,0];
const hSuz12 = [0,0,0,0,0,0,0,0,0,0,0,0,0,0,0,0,0,0,0,0];
const hInput = [10,3,1,1,3,6,4,7,4,3,2,1,4,3,6,5,4,8,6,3,10,12,16,10,12,9,13,11,9,12,14,10,16,13,10,12,9,12,10,8,11,24,16,14,10,15,12,13,10,14,12,15,13,11,10,12,14,16,10,9,12,8,10,8,11,7,6,4,9,3,3,3,4,3,6,5,8,14,5,8,5,6,7,5,4,6,8,6,9,7,5,8,6,7,5,10,8,6,7,8,5,9,7,7,6,9,5,3,3,5,4,3,2,6,8,5];
const exonStart = [2.3,6.2,9.85,14.6,44.9,61.9];
const exonLength = [1.4,0.15,0.4,1.5,6.9,3.7];
const exonKb = ['A','F','H','B','D','E'];

const SVGNS = 'http://www.w3.org/2000/svg';
function mk(parent, tag, attrs, text){
  const el = document.createElementNS(SVGNS, tag);
  for (const k in attrs) el.setAttribute(k, attrs[k]);
  if (text !== undefined) el.textContent = text;
  parent.appendChild(el);
  return el;
}

/* ---------- Panel D drawing ---------- */
(function(){
  const g = document.getElementById('chart-d');
  const xP = s => 1473.7 + (s - 20) * 6.4;
  const yF = v => 429.7 - v * 0.0504;
  gridPositions.forEach(p => {
    const l = mk(g,'line',{x1:xP(p),x2:xP(p),y1:194,y2:430,stroke:'#666','stroke-width':1.6,'stroke-dasharray':'1.6 3'});
    
    
  });
  fuTicks.forEach(v => {
    if (v > 0) {
      const l = mk(g,'line',{x1:1435,x2:1798,y1:yF(v),y2:yF(v),stroke:'#666','stroke-width':1.6,'stroke-dasharray':'1.6 3'});
      
      
    }
    const t = mk(g,'text',{x:1425,y:yF(v)+10+v*0.0006,'text-anchor':'end','font-size':21},String(v));
    
    
    const k = mk(g,'line',{x1:1431,x2:1435,y1:yF(v),y2:yF(v),stroke:'#111','stroke-width':1.6});
    
    
  });
  for (let v = 200; v < 4600; v += 200) {
    mk(g,'line',{x1:1433,x2:1435,y1:yF(v),y2:yF(v),stroke:'#111','stroke-width':1.2});
  }
  const ax = mk(g,'line',{x1:1435,x2:1435,y1:194,y2:431,stroke:'#111','stroke-width':2});
  
  
  const bx = mk(g,'line',{x1:1432,x2:1798,y1:431,y2:431,stroke:'#111','stroke-width':2});
  
  
  sizeLabels.forEach((lab,i) => {
    const x = xP(sizePositions[i]);
    const k = mk(g,'line',{x1:x,x2:x,y1:434,y2:439,stroke:'#111','stroke-width':1.6});
    
    
    const t = mk(g,'text',{transform:'translate('+(x+8)+' 445) rotate(-90)','text-anchor':'end','font-size':21},lab);
    
    
  });
  const pts = (xs,ys) => xs.map((s,i) => xP(s).toFixed(1)+','+yF(ys[i]).toFixed(1)).join(' ');
  const red = mk(g,'polyline',{points:pts(clapUvPos,clapUvFu),fill:'none',stroke:'#ee1c25','stroke-width':2.2});
  
  
  const dots = mk(g,'polyline',{points:pts(clapUvPos.slice(1,9),clapUvFu.slice(1,9)),fill:'none',stroke:'#fdbf12','stroke-width':2,'stroke-dasharray':'1.5 3.5'});
  
  
  const yel = mk(g,'polyline',{points:pts(clipUvPos,clipUvFu),fill:'none',stroke:'#fdbf12','stroke-width':2});
  
  
  const redBase = mk(g,'polyline',{points:pts(clapUvPos.slice(-2),clapUvFu.slice(-2)),fill:'none',stroke:'#ee1c25','stroke-width':2.2});
  
  
})();

/* ---------- Panels E, F drawing ---------- */
function scatterAxes(g, x0, axisX, labelX){
  const xS = v => x0 + 33.67 * v;
  const yS = l => 766.7 - 14.97 * l;
  const ya = mk(g,'line',{x1:axisX,x2:axisX,y1:yS(10),y2:yS(-10),stroke:'#111','stroke-width':2});
  
  
  enrichTicks.forEach((v,i) => {
    const k = mk(g,'line',{x1:axisX-8,x2:axisX,y1:yS(v),y2:yS(v),stroke:'#111','stroke-width':1.8});
    
    
    const t = mk(g,'text',{x:labelX,y:yS(v)+7.5,'text-anchor':'end','font-size':21},enrichLabels[i]);
    
    
  });
  const xa = mk(g,'line',{x1:xS(0),x2:xS(10),y1:928.7,y2:928.7,stroke:'#111','stroke-width':2});
  
  
  abundanceTicks.forEach(v => {
    const k = mk(g,'line',{x1:xS(v),x2:xS(v),y1:928.7,y2:935,stroke:'#111','stroke-width':1.8});
    
    
    const t = mk(g,'text',{x:xS(v),y:957.5,'text-anchor':'middle','font-size':21},String(v));
    
    
  });
  const d = mk(g,'line',{x1:axisX+5,x2:xS(10),y1:yS(0),y2:yS(0),stroke:'#111','stroke-width':2,'stroke-dasharray':'10 6'});
  
  
  return {xS, yS};
}
function drawSpan(g, x, yTop, yBot, color){
  const l = mk(g,'line',{x1:x,x2:x,y1:yTop,y2:yBot,stroke:color,'stroke-width':6,'stroke-linecap':'round'});
  
  
}
function drawBand(g, a, xs, ls){
  const p = mk(g,'polyline',{points:xs.map((x,i)=>a.xS(x)+','+a.yS(ls[i])).join(' '),fill:'none',stroke:'#000','stroke-width':5.5,'stroke-linecap':'round'});
  
  
}
function drawPoints(g, a, list, color){
  list.forEach(q => {
    const c = mk(g,'circle',{cx:a.xS(q[0]),cy:a.yS(q[1]),r:3,fill:color});
    
    
  });
}
(function(){
  const g = document.getElementById('chart-e');
  const a = scatterAxes(g, 905, 892, 879);
  eColX.forEach((x,i) => {
    drawSpan(g,a.xS(x),a.yS(eColRedTop[i]),a.yS(eColSplit[i]),'#d33333');
    drawSpan(g,a.xS(x),a.yS(eColSplit[i]),a.yS(eColBottom[i]),'#000');
  });
  eDenseX.forEach((x,i) => {
    drawSpan(g,a.xS(x),a.yS(eDenseRedTop[i]),a.yS(eDenseSplit[i]),'#d33333');
  });
  eDenseX.forEach((x,i) => {
    drawSpan(g,a.xS(x),a.yS(eDenseSplit[i]),a.yS(eDenseBottom[i]),'#000');
  });
  drawBand(g,a,eBand1X,eBand1L);
  drawBand(g,a,eBand2X,eBand2L);
  drawBand(g,a,eBand3X,eBand3L);
  drawPoints(g,a,eRedPoints,'#d33333');
  drawPoints(g,a,eBlackPoints,'#000');
})();
(function(){
  const g = document.getElementById('chart-f');
  const a = scatterAxes(g, 1423.3, 1410, 1396.7);
  fColX.forEach((x,i) => drawSpan(g,a.xS(x),a.yS(fColTop[i]),a.yS(fColBottom[i]),'#000'));
  fDenseX.forEach((x,i) => drawSpan(g,a.xS(x),a.yS(fDenseTop[i]),a.yS(fDenseBottom[i]),'#000'));
  drawBand(g,a,fBand1X,fBand1L);
  drawBand(g,a,fBand2X,fBand2L);
  drawPoints(g,a,fRedPoints,'#d33333');
  drawPoints(g,a,fBlackPoints,'#000');
})();

/* ---------- Panels G, H drawing ---------- */
function drawTracks(g, x0, labelX, ranges, series){
  const width = 365.5;
  const baselines = [1163.7,1240.7,1317.7,1394.7];
  const labelY = [1143,1219,1296,1366];
  const colors = ['#6e7876','#6e7876','#6e7876','#b0b5bb'];
  const xT = (i,n) => x0 + i / n * width;
  const yT = (v,max,base) => base - v / max * 61;
  series.forEach((vals,k) => {
    const base = baselines[k];
    let d = 'M' + x0 + ' ' + base;
    vals.forEach((v,i) => {
      const y = yT(v,ranges[k],base).toFixed(1);
      d += 'L' + xT(i,vals.length).toFixed(1) + ' ' + y + 'L' + xT(i+1,vals.length).toFixed(1) + ' ' + y;
    });
    d += 'L' + (x0 + width) + ' ' + base + 'Z';
    const p = mk(g,'path',{d:d,fill:colors[k]});
    
    
    const b = mk(g,'line',{x1:x0,x2:x0+width,y1:base,y2:base,stroke:'#111','stroke-width':1.8});
    
    
    const t = mk(g,'text',{x:labelX,y:labelY[k],'text-anchor':'end','font-size':25,'font-weight':700},trackNames[k]);
    
    
    const r = mk(g,'text',{x:x0+width,y:base-57.5,'text-anchor':'end','font-size':15.2},'[0 - ' + ranges[k] + ']');
    
    
  });
  const xK = kb => x0 + kb * width / 100;
  const gene = mk(g,'line',{x1:x0,x2:x0+width,y1:1416.7,y2:1416.7,stroke:'#2a2627','stroke-width':3});
  
  
  exonStart.forEach((s,i) => {
    const ex = mk(g,'rect',{x:xK(s),y:1407.7,width:Math.max(1,xK(exonLength[i])-x0),height:17.6,fill:'#231f20'});
    
    
  });
  const t1 = mk(g,'text',{x:x0+3.5,y:1450.5,'font-size':22},exonKb.slice(0,4).join(''));
  
  
  [4,5].forEach(i => {
    const t = mk(g,'text',{x:xK(exonStart[i]+exonLength[i]/2),y:1450.5,'text-anchor':'middle','font-size':22},exonKb[i]);
    
    
  });
}
drawTracks(document.getElementById('chart-g'), 900, 881, gRanges, [gEed,gEzh2,gSuz12,gInput]);
drawTracks(document.getElementById('chart-h'), 1432.3, 1413, hRanges, [hEed,hEzh2,hSuz12,hInput]);
</script>
</body>
</html>
